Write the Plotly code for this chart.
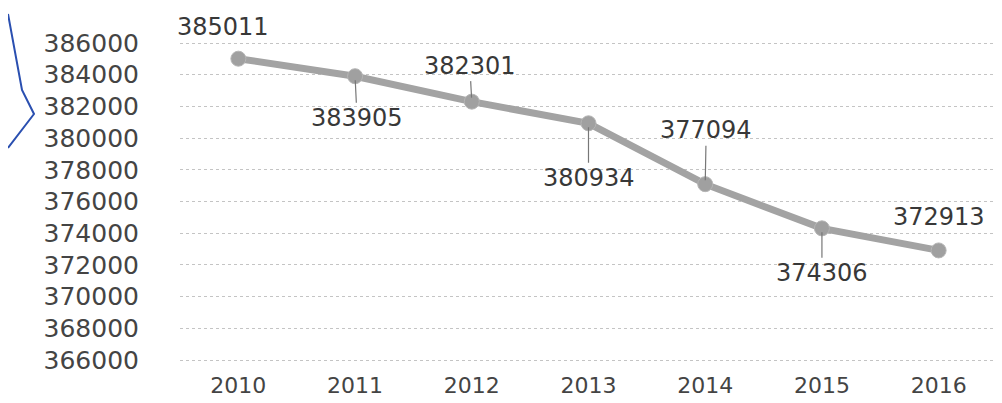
import plotly.graph_objects as go

# ---- data ----
years = ["2010", "2011", "2012", "2013", "2014", "2015", "2016"]
values = [385011, 383905, 382301, 380934, 377094, 374306, 372913]
y_ticks = [366000, 368000, 370000, 372000, 374000, 376000, 378000, 380000, 382000, 384000, 386000]

# ---- label styling (pixel offsets of the data labels, and whether a leader line is drawn) ----
label_dx = [-15, 2, -2, 0, 1, 0, 0]
label_dy = [-32, 42, -36, 55, -54, 45, -33]
leader = [False, True, True, True, True, True, False]

FONT = "DejaVu Sans"
TXT = "#383838"

fig = go.Figure()
fig.add_trace(go.Scatter(
    x=years, y=values, mode="lines+markers",
    line=dict(color="#a3a3a3", width=7),
    marker=dict(color="#a0a0a0", size=15, line=dict(color="#b5b5b5", width=1)),
    hoverinfo="skip", showlegend=False,
))

annotations = []
for i, (yr, v) in enumerate(zip(years, values)):
    annotations.append(dict(
        x=i, y=v, xref="x", yref="y", text=str(v), showarrow=True,
        ax=label_dx[i], ay=label_dy[i],
        arrowhead=0, arrowwidth=1.2, standoff=4,
        arrowcolor="#777777" if leader[i] else "rgba(255,255,255,0)",
        font=dict(family=FONT, size=24, color=TXT),
    ))

# page body has an 8px margin; gridlines span page px 43..360 (y), plot area 180..997 (x)
OFF = 8
PAD = 3  # few px of padding so the top/bottom gridlines are drawn
L, W, H = 180 - OFF, 994, 395
T = 43 - OFF - PAD
PW, PH = 817, 317 + 2 * PAD
Y0, Y1 = 366000, 386000
ypad = (Y1 - Y0) * PAD / 317.0

def px(xp):
    return (xp - OFF - L) / PW

def py(yp):
    return (T + PH - (yp - OFF)) / PH

# hand-drawn blue pen stroke at the left edge of the scan
fig.add_shape(
    type="path", xref="paper", yref="paper",
    path=f"M {px(8)},{py(14)} L {px(22)},{py(90)} L {px(34)},{py(114)} L {px(8)},{py(148)}",
    line=dict(color="#2a4fb0", width=2),
)

fig.update_layout(
    width=W, height=H,
    margin=dict(l=L, r=W - L - PW, t=T, b=H - T - PH),
    paper_bgcolor="white", plot_bgcolor="white",
    font=dict(family=FONT, size=24, color=TXT),
    annotations=annotations,
)
fig.update_xaxes(
    type="category", range=[-0.5, 6.5], showline=False, showgrid=False,
    zeroline=False, ticks="", ticklabelstandoff=7, automargin=False,
    tickfont=dict(family=FONT, size=22, color="#444444"),
)
fig.update_yaxes(
    range=[Y0 - ypad, Y1 + ypad], tickvals=y_ticks, tickformat="d",
    showline=False, zeroline=False, ticks="", automargin=False,
    showgrid=True, gridcolor="#c4c4c4", gridwidth=1, griddash="dot",
    ticklabelstandoff=40,
    tickfont=dict(family=FONT, size=25, color="#444444"),
)

fig.write_html("out.html")
